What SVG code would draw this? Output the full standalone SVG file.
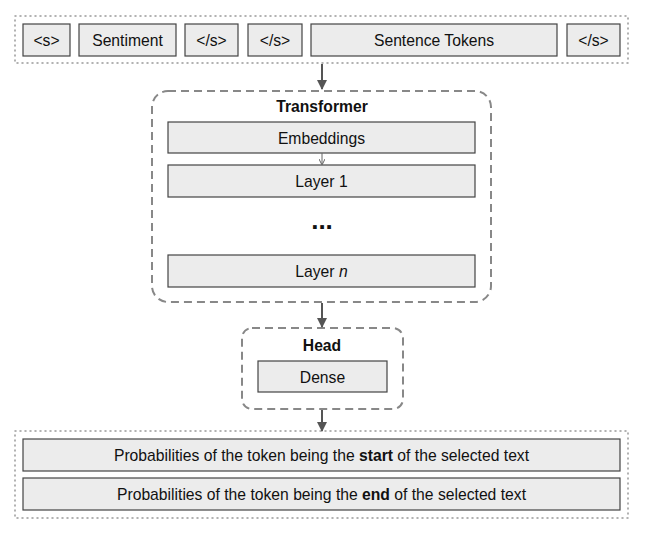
<svg xmlns="http://www.w3.org/2000/svg" width="645" height="533" viewBox="0 0 645 533">
<defs>
<marker id="ah" markerWidth="10" markerHeight="10" refX="9" refY="5" orient="auto" markerUnits="userSpaceOnUse">
<path d="M0,0 L10,5 L0,10 Z" fill="#555"/>
</marker>
<marker id="ahs" markerWidth="6" markerHeight="6" refX="5" refY="3" orient="auto" markerUnits="userSpaceOnUse">
<path d="M0,0 L6,3 L0,6" fill="none" stroke="#666" stroke-width="1"/>
</marker>
<style>
text{font-family:"Liberation Sans",Arial,sans-serif;font-size:15.7px;fill:#111;text-anchor:middle;dominant-baseline:central}
.b{font-weight:bold}
.box{fill:#ececec;stroke:#444;stroke-width:1.2}
.dot{fill:none;stroke:#999;stroke-width:1.5;stroke-dasharray:1 4;stroke-linecap:round}
.dash{fill:none;stroke:#888;stroke-width:2;stroke-dasharray:8 5}
.conn{stroke:#555;stroke-width:2;fill:none}
</style>
</defs>
<g id="input">
<rect class="dot" x="15" y="16" width="613" height="47"/>
<g id="tok-s"><rect class="box" x="23" y="24" width="47" height="32"/><text x="46.5" y="40">&lt;s&gt;</text></g>
<g id="tok-sentiment"><rect class="box" x="79" y="24" width="97" height="32"/><text x="127.5" y="40">Sentiment</text></g>
<g id="tok-end1"><rect class="box" x="185" y="24" width="53" height="32"/><text x="211.5" y="40">&lt;/s&gt;</text></g>
<g id="tok-end2"><rect class="box" x="248" y="24" width="54" height="32"/><text x="275" y="40">&lt;/s&gt;</text></g>
<g id="tok-sentence"><rect class="box" x="311" y="24" width="246" height="32"/><text x="434" y="40">Sentence Tokens</text></g>
<g id="tok-end3"><rect class="box" x="567" y="24" width="53" height="32"/><text x="593.5" y="40">&lt;/s&gt;</text></g>
</g>
<g id="transformer">
<rect class="dash" x="152" y="91" width="339" height="211" rx="16"/>
<text class="b" x="322" y="106">Transformer</text>
<g id="embeddings"><rect class="box" x="168" y="122" width="307" height="31"/><text x="321.5" y="138">Embeddings</text></g>
<g id="layer1"><rect class="box" x="168" y="165" width="307" height="32"/><text x="321.5" y="181">Layer 1</text></g>
<text class="b" x="322" y="220" style="font-size:26px">...</text>
<g id="layern"><rect class="box" x="168" y="255" width="307" height="32"/><text x="321.5" y="271">Layer <tspan font-style="italic">n</tspan></text></g>
</g>
<g id="head">
<rect class="dash" x="242" y="328" width="161" height="81" rx="10"/>
<text class="b" x="322" y="345">Head</text>
<g id="dense"><rect class="box" x="258" y="361" width="129" height="31"/><text x="322.5" y="377">Dense</text></g>
</g>
<g id="output">
<rect class="dot" x="15" y="431" width="613" height="87"/>
<g id="prob-start"><rect class="box" x="23" y="439" width="597" height="32"/><text x="321.5" y="455">Probabilities of the token being the <tspan font-weight="bold">start</tspan> of the selected text</text></g>
<g id="prob-end"><rect class="box" x="23" y="478" width="597" height="32"/><text x="321.5" y="494">Probabilities of the token being the <tspan font-weight="bold">end</tspan> of the selected text</text></g>
</g>
<g id="connectors">
<line class="conn" x1="322" y1="64" x2="322" y2="89" marker-end="url(#ah)"/>
<line x1="322" y1="153" x2="322" y2="164" stroke="#666" stroke-width="1" marker-end="url(#ahs)"/>
<line class="conn" x1="322" y1="303" x2="322" y2="327" marker-end="url(#ah)"/>
<line class="conn" x1="322" y1="410" x2="322" y2="431" marker-end="url(#ah)"/>
</g>
</svg>
